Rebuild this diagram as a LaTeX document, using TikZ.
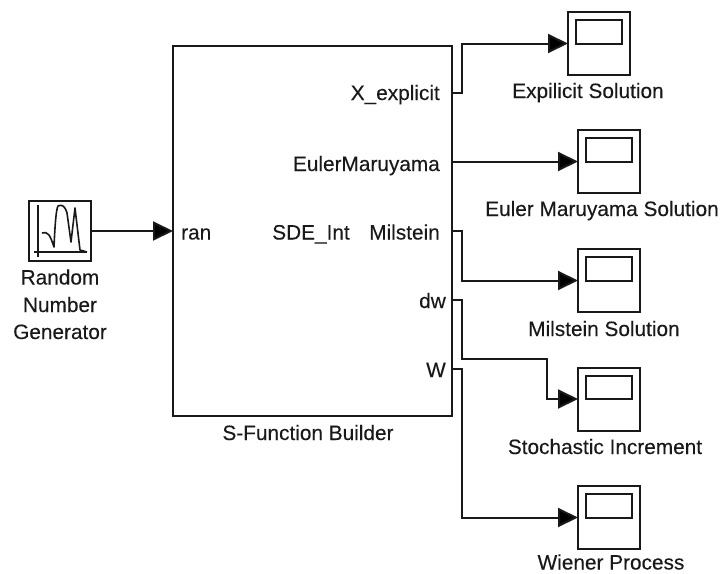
\documentclass[tikz,border=0pt]{standalone}
\usepackage{fontspec}
\setmainfont{Liberation Sans}[FakeBold=0.2]
\usepackage{xcolor}
\usetikzlibrary{arrows.meta,positioning,calc}

\begin{document}
\begin{tikzpicture}[
        x=1pt, y=-1pt,
        block/.style={
            rectangle,
            draw=black!90,
            line width=2pt,
            inner sep=0pt,
            outer sep=0pt
        },
        scopebox/.style={
            block,
            minimum width=62pt,
            minimum height=63pt
        },
        scopescreen/.style={
            block,
            anchor=south,
            minimum width=46pt,
            minimum height=23.5pt
        },
        txt/.style={
            inner sep=0pt,
            text=black!90,
            font=\fontsize{20.8}{24}\selectfont
        },
        sig/.style={
            line width=2pt,
            draw=black!90,
            -{Triangle[length=20pt,width=19pt,fill=black]}
        }
    ]
        \useasboundingbox (0,0) rectangle (720,573);

        % Blocks
        \node[block, minimum width=279pt, minimum height=370pt] (sfun) at (312.5,231) {};
        \node[block, minimum width=62pt, minimum height=60pt] (gen) at (60,231) {};
        \node[scopebox] (s1) at (599,43.5) {};
        \node[scopebox] (s2) at (609,161.5) {};
        \node[scopebox] (s3) at (609,280.5) {};
        \node[scopebox] (s4) at (609,399) {};
        \node[scopebox] (s5) at (609,517.5) {};
        \node[scopescreen] (w1) at (s1.center) {};
        \node[scopescreen] (w2) at (s2.center) {};
        \node[scopescreen] (w3) at (s3.center) {};
        \node[scopescreen] (w4) at (s4.center) {};
        \node[scopescreen] (w5) at (s5.center) {};

        % Generator icon
        \draw[line width=1.5pt, draw=black!90] (38,205) -- (38,257);
        \draw[line width=1.5pt, draw=black!90] (34,252) -- (87,252);
        \draw[line width=1.6pt, draw=black!90, line join=round]
            (42,233) .. controls (48,231) and (50,235) .. (54,247)
            .. controls (55,225) and (56,210) .. (58,206)
            .. controls (62,204) and (65,206) .. (67,213)
            -- (71,242) -- (75,208) -- (80,250) -- (87,252);

        % Ports on the right side
        \coordinate (p1) at (sfun.east |- 0,93);
        \coordinate (p2) at (sfun.east |- s2.center);
        \coordinate (p3) at (sfun.east |- 0,231);
        \coordinate (p4) at (sfun.east |- 0,300);
        \coordinate (p5) at (sfun.east |- 0,369);
        \coordinate (bend) at (547,359);

        % Signals
        \draw[sig] (gen) -- (sfun.west |- gen.east);
        \draw[sig] (p1) -- ++(10,0) |- (s1.west);
        \draw[sig] (p2) -- (s2.west);
        \draw[sig] (p3) -- ++(10,0) |- (s3.west);
        \draw[sig] (p4) -- ++(10,0) |- (bend) |- (s4.west);
        \draw[sig] (p5) -- ++(10,0) |- (s5.west);

        % Labels
        \node[txt, anchor=base west] (lran) at (181,239.5) {ran};
        \node[txt, anchor=base] (lint) at (311,239.5) {SDE\_Int};
        \node[txt, anchor=base east] (lx) at (440,100) {X\_explicit};
        \node[txt, anchor=base east] (lem) at (440,171) {EulerMaruyama};
        \node[txt, anchor=base east] (lmil) at (440,239.5) {Milstein};
        \node[txt, anchor=base east] (ldw) at (446,308) {dw};
        \node[txt, anchor=base east] (lw) at (446,377) {W};
        \node[txt, anchor=base] (lsfun) at (308,440) {S-Function Builder};
        \node[txt, anchor=base] (lg1) at (60,284.5) {Random};
        \node[txt, anchor=base] (lg2) at (60,312) {Number};
        \node[txt, anchor=base] (lg3) at (60,339) {Generator};
        \node[txt, anchor=base] (ls1) at (588,98) {Expilicit Solution};
        \node[txt, anchor=base] (ls2) at (602,216) {Euler Maruyama Solution};
        \node[txt, anchor=base] (ls3) at (604,336) {Milstein Solution};
        \node[txt, anchor=base] (ls4) at (605,454) {Stochastic Increment};
        \node[txt, anchor=base] (ls5) at (611,569.5) {Wiener Process};
    \end{tikzpicture}
\end{document}
